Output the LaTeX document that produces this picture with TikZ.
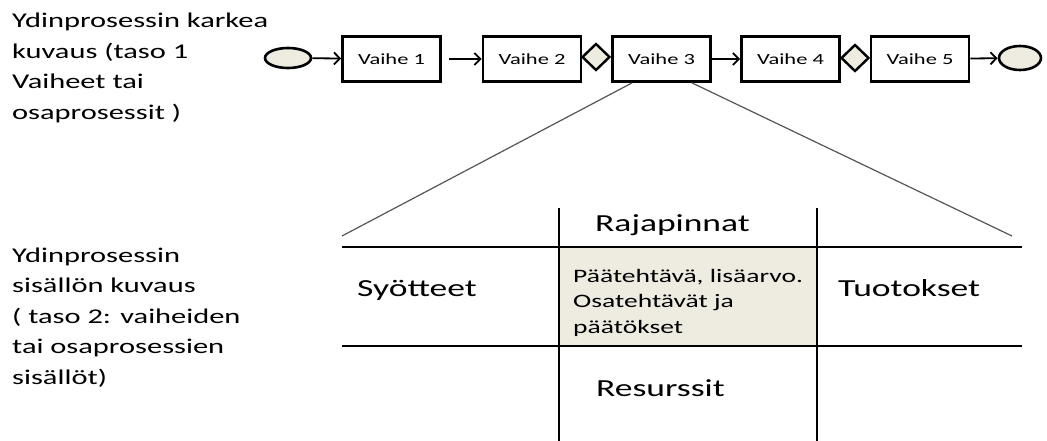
\documentclass[tikz,border=0pt]{standalone}
\usepackage{fontspec}
\setmainfont{Carlito}[FakeStretch=1.45]
\usetikzlibrary{shapes.geometric,arrows.meta}
\definecolor{cellfill}{HTML}{EEECE1}
\definecolor{linegray}{HTML}{555555}
\tikzset{
  vaihe/.style={draw,line width=2.6pt,minimum width=98pt,minimum height=45pt,inner sep=0pt,font=\fontsize{15.5}{18}\selectfont},
  tapahtuma/.style={ellipse,draw,line width=2.6pt,fill=cellfill,inner sep=0pt},
  haara/.style={diamond,draw,line width=2.4pt,fill=cellfill,minimum width=28pt,minimum height=27pt,inner sep=0pt},
  nuoli/.style={line width=1.8pt,-{Straight Barb[length=6pt,width=12pt]}},
  otsikko/.style={anchor=base west,inner sep=0pt,align=left,font=\fontsize{21}{30.5}\selectfont},
  iso/.style={anchor=base west,inner sep=0pt,font=\fontsize{24.5}{29}\selectfont},
  solu/.style={anchor=base west,inner sep=0pt,align=left,font=\fontsize{19}{25.5}\selectfont},
  ruudukko/.style={line width=1.4pt},
}
\begin{document}
\begin{tikzpicture}[x=1pt,y=-1pt]
        \useasboundingbox (0,0) rectangle (1047,441);
        % taso 1 (base = last line)
        \node[otsikko] (taso1) at (12,119.5) {Ydinprosessin karkea\\kuvaus (taso 1\\Vaiheet tai\\osaprosessit )};
        \node[tapahtuma,minimum width=46pt,minimum height=20pt] (alku) at (288,58) {};
        \node[vaihe] (v1) at (391.5,59) {Vaihe 1};
        \node[vaihe] (v2) at (532,59) {Vaihe 2};
        \node[vaihe] (v3) at (661.5,59) {Vaihe 3};
        \node[vaihe] (v4) at (790.5,59) {Vaihe 4};
        \node[vaihe] (v5) at (920,59) {Vaihe 5};
        \node[haara] (h1) at (596,57) {};
        \node[haara] (h2) at (855,58) {};
        \node[tapahtuma,minimum width=42pt,minimum height=24pt] (loppu) at (1020,58) {};
        \draw[nuoli] (alku) -- (v1);
        \draw[nuoli,shorten <=7pt] (v1) -- (v2);
        \draw[nuoli] (v3) -- (v4);
        \draw[nuoli] (v5) -- (loppu);
        % taso 2
        \coordinate (vasen) at (342,236);
        \coordinate (oikea) at (1012,236);
        \draw[linegray,line width=1.2pt] ([xshift=21pt]v3.south west) -- (vasen);
        \draw[linegray,line width=1.2pt] ([xshift=-20pt]v3.south east) -- (oikea);
        \fill[cellfill] (559,247) rectangle (817,346);
        \draw[ruudukko] (342,247) -- (1022,247) (342,346) -- (1022,346);
        \draw[ruudukko] (559,208) -- (559,441) (817,208) -- (817,441);
        \node[otsikko] (taso2) at (12,384) {Ydinprosessin\\sisällön kuvaus\\( taso 2: vaiheiden\\tai osaprosessien\\sisällöt)};
        \node[iso] (rajapinnat) at (595,231) {Rajapinnat};
        \node[iso] (syotteet) at (357,296) {Syötteet};
        \node[iso] (tuotokset) at (838,296) {Tuotokset};
        \node[iso] (resurssit) at (596,396) {Resurssit};
        \node[solu] (tehtava) at (573,333) {Päätehtävä, lisäarvo.\\Osatehtävät ja\\päätökset};
\end{tikzpicture}
\end{document}
